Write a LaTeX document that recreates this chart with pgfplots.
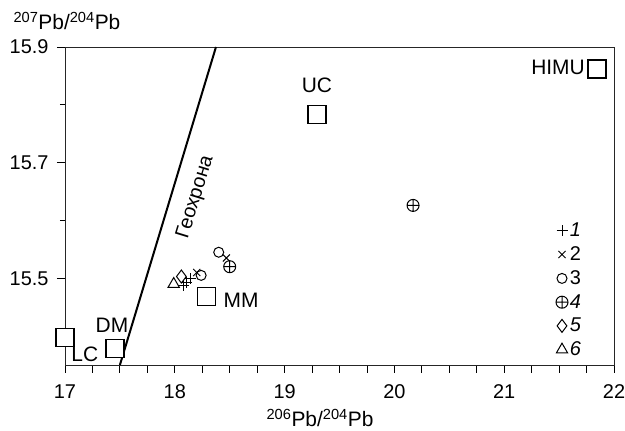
\documentclass[border=0pt]{standalone}
\usepackage{pgfplots}
\pgfplotsset{compat=1.18}
\usepackage{fontspec}
\setmainfont{Liberation Sans}
\begin{document}
\begin{tikzpicture}
\begin{axis}[
  scale only axis, width=549bp, height=318bp,
  xmin=17, xmax=22, ymin=15.35, ymax=15.9,
  clip=false,
  axis line style={line width=0.8bp, black!85},
  xtick={17,17.25,17.5,17.75,18,18.25,18.5,18.75,19,19.25,19.5,19.75,20,20.25,20.5,20.75,21,21.25,21.5,21.75,22},
  xticklabels={17,,,,18,,,,19,,,,20,,,,21,,,,22},
  ytick={15.5,15.7,15.9}, yticklabels={15.5,15.7,15.9},
  minor ytick={15.4,15.6,15.8},
  tick align=outside, xtick pos=bottom, ytick pos=left,
  major tick length=8bp, minor tick length=5bp,
  tick style={line width=0.8bp, black},
  ticklabel style={font=\fontsize{20}{24}\selectfont},
  xticklabel style={yshift=-8bp},
  yticklabel style={xshift=-5bp},
  /pgf/number format/assume math mode=true,
  legend style={draw=none, fill=none, at={(rel axis cs:0.894,0.453)}, anchor=north west,
    font=\fontsize{20}{24}\selectfont, row sep=4.5bp, inner sep=0pt,
    /tikz/every even column/.style={column sep=5bp}},
  legend cell align=left,
  legend image code/.code={\draw[#1, mark repeat=2, mark phase=2] plot coordinates {(0bp,0bp)(6bp,0bp)(12bp,0bp)};},
]
\coordinate (SW) at (rel axis cs:0,0);
\coordinate (NE) at (rel axis cs:1,1);
\coordinate (NW) at (rel axis cs:0,1);
% Geochron
\addplot[black, line width=2bp, forget plot] coordinates {(17.5,15.35) (18.375,15.9)};
% reservoirs
\addplot[only marks, mark=square*, mark size=9bp, mark options={fill=white, draw=black, line width=1.2bp}, forget plot]
  coordinates {(17.0,15.398) (17.455,15.379) (18.29,15.469) (19.295,15.783) (21.845,15.862)};
% groups
\addplot[only marks, mark=+, mark size=5.5bp, black, line width=1bp]
  coordinates {(18.08,15.488) (18.11,15.493) (18.14,15.500)};
\addlegendentry{\textit{1}}
\addplot[only marks, mark=x, mark size=5bp, black, line width=1bp]
  coordinates {(18.20,15.510) (18.47,15.535)};
\addlegendentry{2}
\addplot[only marks, mark=o, mark size=5bp, black, line width=1bp]
  coordinates {(18.24,15.505) (18.40,15.545)};
\addlegendentry{3}
\addplot[only marks, mark=oplus, mark size=6bp, black, line width=1bp]
  coordinates {(18.50,15.520) (20.17,15.626)};
\addlegendentry{\textit{4}}
\addplot[only marks, mark=diamond, mark size=6.5bp, black, line width=1bp]
  coordinates {(18.06,15.503)};
\addlegendentry{\textit{5}}
\addplot[only marks, mark=triangle, mark size=6.5bp, black, line width=1bp]
  coordinates {(17.99,15.490)};
\addlegendentry{\textit{6}}
% labels
\node[font=\fontsize{21}{24}\selectfont] at (axis cs:17.18,15.369) {LC};
\node[font=\fontsize{21}{24}\selectfont] at (axis cs:17.428,15.419) {DM};
\node[font=\fontsize{21}{24}\selectfont] at (axis cs:18.603,15.462) {MM};
\node[font=\fontsize{21}{24}\selectfont] at (axis cs:19.295,15.834) {UC};
\node[font=\fontsize{21}{24}\selectfont] at (axis cs:21.49,15.864) {HIMU};
\node[rotate=73, font=\fontsize{20}{24}\selectfont] at (axis cs:18.19,15.64) {Геохрона};
\end{axis}
\node[anchor=base west, font=\fontsize{21}{24}\selectfont] at ([shift={(-55bp,17bp)}]NW) {\textsuperscript{207}Pb/\textsuperscript{204}Pb};
\node[anchor=base, font=\fontsize{21}{24}\selectfont] at ([shift={(255bp,-62bp)}]SW) {\textsuperscript{206}Pb/\textsuperscript{204}Pb};
\pgfresetboundingbox
\path ([shift={(-65bp,-66bp)}]SW) rectangle ([shift={(11bp,47bp)}]NE);
\end{tikzpicture}
\end{document}
